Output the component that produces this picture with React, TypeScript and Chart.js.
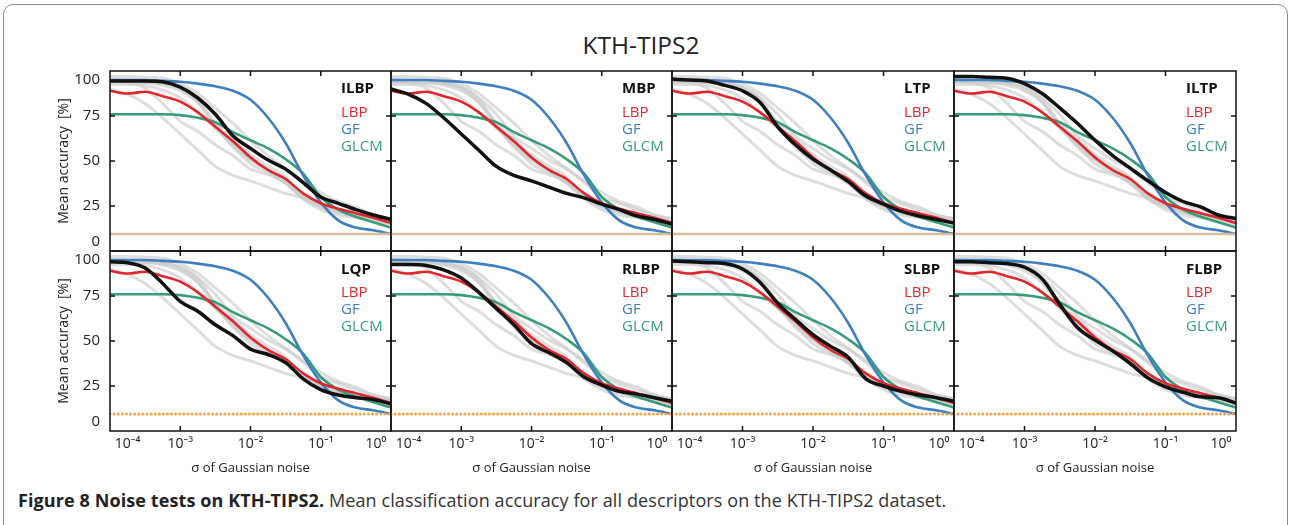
import React, { useEffect, useRef } from "react";
import { Chart, registerables } from "chart.js";

Chart.register(...registerables);

// ---------- data ----------
const SIGMA = [1e-4, 1.78e-4, 3.16e-4, 5.62e-4, 1e-3, 1.78e-3, 3.16e-3, 5.62e-3, 1e-2, 1.78e-2, 3.16e-2, 5.62e-2, 0.1, 0.178, 0.316, 0.562, 1];
const X_TICKS = [1e-4, 1e-3, 1e-2, 1e-1, 1];
const X_TICK_LABELS = ["10⁻⁴", "10⁻³", "10⁻²", "10⁻¹", "10⁰"];
const Y_TICKS = [0, 25, 50, 75, 100];
const Y_TICK_LABELS = ["0", "25", "50", "75", "100"];
const CHANCE = 9.5;

const LBP = [89, 87.5, 88.5, 86, 83, 77, 69, 61, 52, 45, 40, 32, 26.5, 23.5, 21, 18.5, 15.5];
const GF = [95, 95, 95, 94.5, 94, 93, 91.5, 89, 84, 74, 60, 42, 27, 17, 13, 11.5, 9.5];
const GLCM = [76, 76, 76, 76, 75.5, 74, 71.5, 66, 61.5, 57, 51, 43, 30, 23, 19, 16, 13];

const ILBP = [94.5, 94.5, 94.5, 94, 91, 85, 76, 64, 57, 50.5, 45.5, 38, 30, 26.5, 23, 20, 17.5];
const MBP = [90, 87, 82, 74, 65, 56, 47, 42, 39, 35.5, 32, 29.5, 26, 23, 19.5, 17.5, 15];
const LTP = [95.5, 95, 94.5, 92, 89, 82.5, 69, 59, 51, 45, 38.5, 30.5, 26, 22, 19.5, 17.5, 15.5];
const ILTP = [97, 97, 96.5, 96, 93, 87.5, 79.5, 71, 61.5, 53, 46, 39, 32.5, 27.5, 24.5, 20, 18];
const LQP = [94, 93.5, 90.5, 82, 72, 66.5, 59, 53, 45.5, 42.5, 38, 29, 23, 20, 18.5, 17.5, 15];
const RLBP = [92.5, 92.5, 92, 89.5, 85, 77, 68, 59, 48.5, 43.5, 38, 30, 25.5, 22, 20.5, 18.5, 16.5];
const SLBP = [94.5, 94, 93.5, 93, 90, 82.5, 71, 62, 53.5, 47, 41, 29, 25, 22, 20, 18.5, 16.5];
const FLBP = [94, 94, 93.5, 93, 91, 84.5, 70.5, 57.5, 50.5, 44.5, 37.5, 29.5, 24.5, 21.5, 19, 18.5, 15.5];

const DESCRIPTORS = ["ILBP", "MBP", "LTP", "ILTP", "LQP", "RLBP", "SLBP", "FLBP"];
const DESCRIPTOR_VALUES = [ILBP, MBP, LTP, ILTP, LQP, RLBP, SLBP, FLBP];

const REF_LABELS = ["LBP", "GF", "GLCM"];
const REF_VALUES = [LBP, GF, GLCM];
const REF_COLORS = ["#e3262c", "#3f7fbf", "#379c77"];

const TITLE = "KTH-TIPS2";
const Y_TITLE = "Mean accuracy  [%]";
const X_TITLE = "σ of Gaussian noise";

// ---------- layout ----------
const FONT = '"Open Sans", "Noto Sans", sans-serif';
const COL_EDGES = [110, 391, 672, 954, 1236];
const ROW_EDGES = [71, 251, 431];
const TICK = 5;

const toPoints = (arr: number[]) => SIGMA.map((s, i) => ({ x: s, y: arr[i] }));

const framePlugin = {
  id: "frame",
  afterDatasetsDraw(chart: any, _args: any, opts: any) {
    const { ctx, chartArea: a, scales } = chart;
    ctx.save();
    ctx.strokeStyle = "#111";
    ctx.lineWidth = 1.5;
    ctx.strokeRect(a.left, a.top, a.right - a.left, a.bottom - a.top);
    ctx.beginPath();
    for (const v of X_TICKS.slice(1, -1)) {
      const px = scales.x.getPixelForValue(v);
      ctx.moveTo(px, a.top);
      ctx.lineTo(px, a.top + TICK);
      ctx.moveTo(px, a.bottom);
      ctx.lineTo(px, a.bottom - TICK);
    }
    for (const v of Y_TICKS.slice(1, -1)) {
      const py = scales.y.getPixelForValue(v);
      ctx.moveTo(a.left, py);
      ctx.lineTo(a.left + TICK, py);
      ctx.moveTo(a.right, py);
      ctx.lineTo(a.right - TICK, py);
    }
    ctx.stroke();

    const lx = a.right - 50;
    ctx.textAlign = "left";
    ctx.textBaseline = "middle";
    ctx.font = `bold 15px ${FONT}`;
    ctx.fillStyle = "#111";
    ctx.fillText(opts.name, lx, a.top + opts.nameDy);
    ctx.font = `15px ${FONT}`;
    REF_LABELS.forEach((lab, k) => {
      ctx.fillStyle = REF_COLORS[k];
      ctx.fillText(lab, lx, a.top + 42 + 17 * k);
    });
    ctx.restore();
  },
};

function Panel({ r, c }: { r: number; c: number }) {
  const ref = useRef<HTMLCanvasElement>(null);
  const idx = r * 4 + c;
  const name = DESCRIPTORS[idx];
  const x0 = COL_EDGES[c], x1 = COL_EDGES[c + 1];
  const y0 = ROW_EDGES[r], y1 = ROW_EDGES[r + 1];
  const L = c === 0 ? 90 : 6;
  const R = 6;
  const T = 6;
  const B = r === 1 ? 50 : 6;
  const W = x1 - x0 + L + R;
  const H = y1 - y0 + T + B;

  useEffect(() => {
    const datasets: any[] = [];
    datasets.push({
      data: [{ x: X_TICKS[0], y: CHANCE }, { x: X_TICKS[X_TICKS.length - 1], y: CHANCE }],
      borderColor: r === 0 ? "rgba(214,186,146,0.95)" : "#f6a64a",
      borderWidth: r === 0 ? 2.5 : 3,
      borderDash: r === 0 ? [] : [0.1, 4],
      borderCapStyle: "round",
    });
    datasets.push({
      data: toPoints(DESCRIPTOR_VALUES[idx]),
      borderColor: "#111",
      borderWidth: 3.5,
    });
    REF_VALUES.forEach((vals, k) => {
      datasets.push({ data: toPoints(vals), borderColor: REF_COLORS[k], borderWidth: 2.6 });
    });
    DESCRIPTOR_VALUES.forEach((vals, k) => {
      if (k === idx) return;
      datasets.push({ data: toPoints(vals), borderColor: "rgba(205,205,205,0.65)", borderWidth: 3 });
    });

    const chart = new Chart(ref.current as HTMLCanvasElement, {
      type: "line",
      data: { datasets },
      plugins: [framePlugin as any],
      options: {
        responsive: false,
        animation: false,
        devicePixelRatio: 1,
        layout: {
          autoPadding: false,
          padding: { left: c === 0 ? 0 : L, right: R, top: T, bottom: r === 1 ? 0 : B },
        } as any,
        elements: {
          point: { radius: 0 },
          line: { cubicInterpolationMode: "monotone", borderCapStyle: "round", borderJoinStyle: "round" },
        },
        plugins: {
          legend: { display: false },
          tooltip: { enabled: false },
          frame: { name, nameDy: r === 0 ? 18 : 19 },
        } as any,
        scales: {
          x: {
            type: "logarithmic",
            min: X_TICKS[0],
            max: X_TICKS[X_TICKS.length - 1],
            display: r === 1,
            grid: { display: false, drawTicks: false },
            border: { display: false },
            afterBuildTicks: (s: any) => {
              s.ticks = X_TICKS.map((v) => ({ value: v }));
            },
            afterFit: r === 1
              ? (s: any) => {
                  s.height = B;
                  s.paddingLeft = 0;
                  s.paddingRight = 0;
                  s.paddingTop = 0;
                  s.paddingBottom = 0;
                }
              : undefined,
            ticks: {
              autoSkip: false,
              maxRotation: 0,
              align: "inner",
              padding: 5,
              color: "#222",
              font: { family: FONT, size: 14 },
              callback: (v: any) => {
                const i = X_TICKS.indexOf(Number(v));
                if (i < 0) return "";
                const lab = X_TICK_LABELS[i];
                if (i === 0) return "\u2009\u2009" + lab;
                if (i === X_TICKS.length - 1) return lab + "\u2009\u2009";
                return lab;
              },
            },
            title: {
              display: true,
              text: X_TITLE,
              color: "#222",
              font: { family: FONT, size: 13 },
              padding: { top: 0, bottom: 5 },
            },
          } as any,
          y: {
            type: "linear",
            min: 0,
            max: 100,
            display: c === 0,
            grid: { display: false, drawTicks: false },
            border: { display: false },
            afterBuildTicks: (s: any) => {
              s.ticks = Y_TICKS.map((v) => ({ value: v }));
            },
            afterFit: c === 0
              ? (s: any) => {
                  s.width = L;
                  s.paddingLeft = 0;
                  s.paddingRight = 0;
                  s.paddingTop = 0;
                  s.paddingBottom = 0;
                }
              : undefined,
            ticks: {
              autoSkip: false,
              padding: 10,
              color: "#222",
              font: { family: FONT, size: 15 },
              callback: (v: any) => {
                const i = Y_TICKS.indexOf(Number(v));
                const s = Y_TICK_LABELS[i];
                if (i === Y_TICKS.length - 1) return ["", s];
                if (i === 0) return [s, ""];
                return s;
              },
            },
            title: {
              display: true,
              text: Y_TITLE,
              color: "#222",
              font: { family: FONT, size: 14 },
              padding: { top: 35.6, bottom: 0 },
            },
          } as any,
        },
      },
    });
    return () => chart.destroy();
  }, []);

  return (
    <canvas
      ref={ref}
      width={W}
      height={H}
      style={{ position: "absolute", left: x0 - L, top: y0 - T, width: W, height: H }}
    />
  );
}

export default function App() {
  const panels = [];
  for (let r = 0; r < 2; r++) for (let c = 0; c < 4; c++) panels.push(<Panel key={`${r}-${c}`} r={r} c={c} />);
  return (
    <div
      style={{
        position: "fixed",
        left: 0,
        top: 0,
        width: 1290,
        height: 525,
        background: "#fff",
        overflow: "hidden",
        fontFamily: FONT,
      }}
    >
      <div
        style={{
          position: "absolute",
          left: 3,
          top: 4,
          width: 1285,
          height: 580,
          border: "1.5px solid #8c8c8c",
          borderRadius: 10,
          boxSizing: "border-box",
        }}
      />
      <div
        style={{
          position: "absolute",
          left: 0,
          width: 1282,
          top: 28,
          textAlign: "center",
          fontSize: 24.5,
          lineHeight: "34px",
          color: "#222",
        }}
      >
        {TITLE}
      </div>
      {panels}
      <div
        style={{
          position: "absolute",
          left: 18,
          top: 487,
          fontSize: 18,
          letterSpacing: 0.1,
          lineHeight: "26px",
          color: "#333",
          whiteSpace: "nowrap",
        }}
      >
        <span style={{ fontWeight: 700, color: "#222" }}>Figure 8 Noise tests on KTH-TIPS2.</span>{" "}
        Mean classification accuracy for all descriptors on the KTH-TIPS2 dataset.
      </div>
    </div>
  );
}
